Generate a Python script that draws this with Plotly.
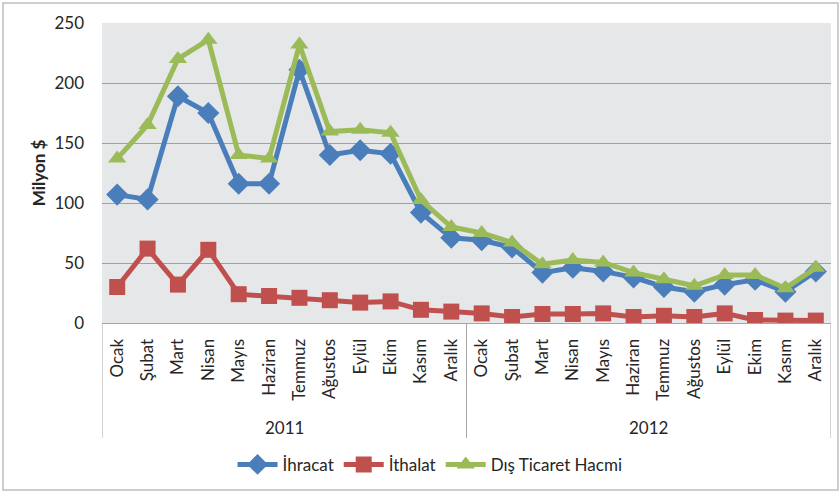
import plotly.graph_objects as go

years = ["2011", "2012"]
months = ["Ocak", "Şubat", "Mart", "Nisan", "Mayıs", "Haziran", "Temmuz",
          "Ağustos", "Eylül", "Ekim", "Kasım", "Aralık"]
tick_labels = months + months

ihracat = [107, 103, 189, 175, 116, 116, 211, 140, 144, 141, 92, 71,
           69, 63, 42, 46, 43, 38, 30, 26, 32, 36, 26, 43]
ithalat = [30, 62, 32, 61, 24, 22.5, 21, 19, 17, 18, 11, 9.5,
           8, 5, 7.5, 7.5, 8, 5, 6, 5, 8, 2.5, 2, 2]
dis_ticaret = [137, 165, 220, 236, 140, 137, 232, 159.5, 161, 158.5, 102.5, 80,
               75, 67, 49, 52.5, 50.5, 42, 36.5, 31, 40, 40, 29, 46]

x = list(range(len(tick_labels)))

BLUE = "#4A7EBB"
RED = "#C0504D"
GREEN = "#9BBB59"
FONT = "Lato"
TXT = "#262626"
FS = 17

fig = go.Figure()
fig.add_trace(go.Scatter(x=x, y=ihracat, name="İhracat", mode="lines+markers",
                         line=dict(color=BLUE, width=5),
                         marker=dict(symbol="diamond", size=17, color=BLUE)))
fig.add_trace(go.Scatter(x=x, y=ithalat, name="İthalat", mode="lines+markers",
                         line=dict(color=RED, width=5),
                         marker=dict(symbol="square", size=16, color=RED)))
fig.add_trace(go.Scatter(x=x, y=dis_ticaret, name="Dış Ticaret Hacmi", mode="lines+markers",
                         line=dict(color=GREEN, width=5),
                         marker=dict(symbol="triangle-up", size=16, color=GREEN)))

fig.update_layout(
    width=840, height=492,
    margin=dict(l=102, r=9, t=23, b=169, autoexpand=False),
    paper_bgcolor="white",
    plot_bgcolor="#E6E7E9",
    font=dict(family=FONT, size=FS, color=TXT),
    showlegend=True,
    legend=dict(orientation="h", x=0.45, xanchor="center", y=-0.473, yanchor="middle",
                font=dict(size=FS, color=TXT), itemwidth=40,
                traceorder="normal", bgcolor="rgba(0,0,0,0)"),
)

fig.update_xaxes(
    range=[-0.5, len(x) - 0.5], automargin=False,
    tickmode="array", tickvals=x, ticktext=tick_labels,
    tickangle=-90, ticks="", showgrid=False, zeroline=False,
    showline=True, linecolor="#A6A6A6", linewidth=1,
    tickfont=dict(size=FS, color=TXT),
    ticklabelstandoff=8,
)
fig.update_yaxes(
    range=[0, 250], tickvals=[0, 50, 100, 150, 200, 250], automargin=False,
    showgrid=True, gridcolor="#A0A0A0", gridwidth=1, zeroline=False,
    showline=False, ticks="", tickfont=dict(size=FS, color=TXT),
    ticklabelstandoff=17,
    title=dict(text="<b>Milyon $</b>", font=dict(size=FS, color=TXT), standoff=4),
)

# group dividers for year categories
for xv in [-0.5, 11.5, 23.5]:
    fig.add_shape(type="line", xref="x", yref="paper", x0=xv, x1=xv, y0=0, y1=-0.383,
                  line=dict(color="#A6A6A6", width=1))
for i, yr in enumerate(years):
    fig.add_annotation(text=yr, xref="x", yref="paper", x=5.5 + 12 * i, y=-0.347,
                       showarrow=False, font=dict(size=FS, color=TXT),
                       yanchor="middle")

# outer chart border
fig.add_shape(type="rect", xref="paper", yref="paper",
              x0=-0.1358, x1=1.0096, y0=-0.5567, y1=1.0667,
              line=dict(color="#BFBFBF", width=1.5), fillcolor="rgba(0,0,0,0)", layer="below")

fig.write_html("out.html", config={"displayModeBar": False},
               post_script="document.body.style.margin='0px';")
